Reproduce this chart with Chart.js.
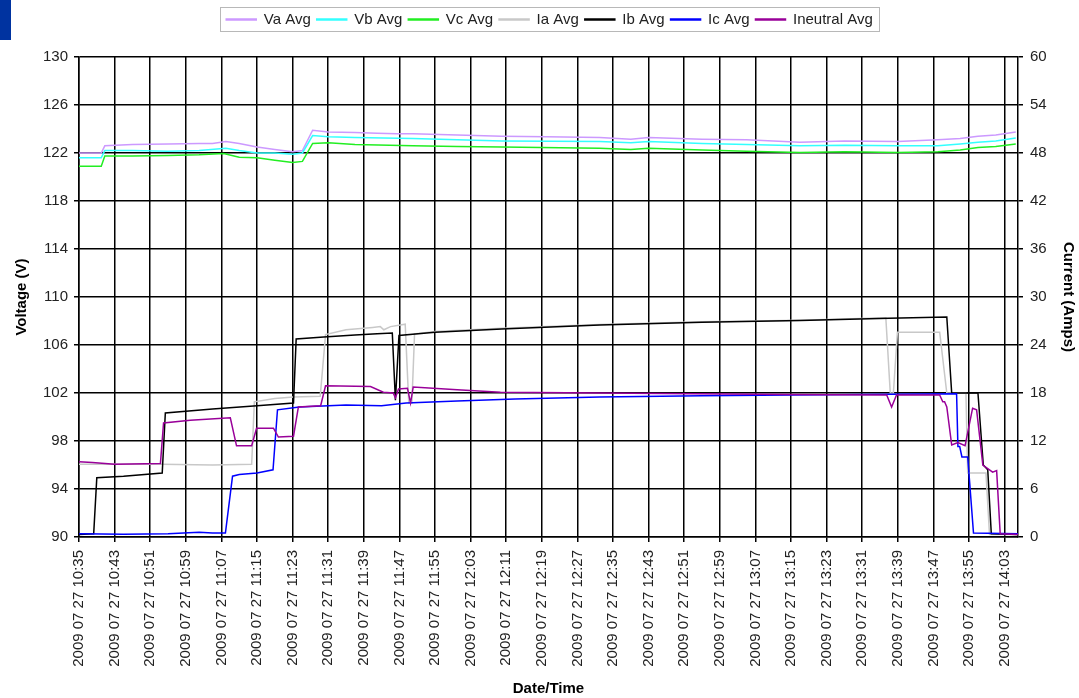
<!DOCTYPE html>
<html>
<head>
<meta charset="utf-8">
<script src="https://cdn.jsdelivr.net/npm/chart.js@4.4.1/dist/chart.umd.min.js"></script>
<style>
  body { margin: 0; background: #fff; }
  #wrap { position: relative; width: 1079px; height: 698px; }
  #corner { position: absolute; left: 0; top: 0; width: 11px; height: 40px; background: #0033a0; }
</style>
</head>
<body>
<div id="wrap">
  <canvas id="chart" width="1079" height="698"></canvas>
  <div id="corner"></div>
</div>
<script>
// x values are minutes after 10:35, one label every 8 minutes
const tickTimes = ['10:35', '10:43', '10:51', '10:59', '11:07', '11:15', '11:23', '11:31', '11:39',
  '11:47', '11:55', '12:03', '12:11', '12:19', '12:27', '12:35', '12:43', '12:51', '12:59',
  '13:07', '13:15', '13:23', '13:31', '13:39', '13:47', '13:55', '14:03'];
const datePrefix = '2009 07 27 ';

// voltages (left axis)
const vaMin = [0, 5, 5.8, 12, 20, 27, 30, 33, 36, 40, 44, 48, 50.2, 52.5, 56, 62, 67, 71.5, 75, 85,
  95, 105, 117, 124, 128, 140, 150, 162, 172, 184, 193, 198, 202, 206, 210.5];
const vaVolt = [122.0, 122.0, 122.6, 122.7, 122.75, 122.8, 122.8, 122.95, 122.8, 122.5, 122.3, 122.1, 122.2, 123.9, 123.75, 123.7, 123.65, 123.6, 123.6, 123.5,
  123.4, 123.35, 123.3, 123.15, 123.3, 123.15, 123.1, 122.9, 123.0, 122.95, 123.1, 123.2, 123.4, 123.5, 123.75];

const vbMin = [0, 5, 5.8, 12, 20, 27, 33, 36, 40, 44, 48, 50.2, 52.5, 56, 62, 75, 85, 95, 117, 124,
  128, 140, 150, 162, 172, 184, 193, 198, 202, 206, 210.5];
const vbVolt = [121.6, 121.6, 122.2, 122.2, 122.15, 122.2, 122.4, 122.2, 122.0, 122.0, 121.9, 122.0, 123.45, 123.35, 123.3, 123.2, 123.1, 123.0, 122.95, 122.85,
  122.95, 122.8, 122.7, 122.6, 122.65, 122.6, 122.6, 122.75, 122.9, 123.0, 123.25];

const vcMin = [0, 5, 5.8, 12, 20, 27, 32.5, 36, 40, 44, 48, 50.2, 52.5, 56, 62, 75, 85, 95, 117, 124,
  128, 140, 150, 162, 172, 184, 193, 198, 202, 206, 210.5];
const vcVolt = [120.9, 120.9, 121.75, 121.75, 121.8, 121.85, 121.95, 121.65, 121.6, 121.4, 121.2, 121.3, 122.8, 122.85, 122.7, 122.6, 122.55, 122.5, 122.4, 122.3,
  122.4, 122.25, 122.15, 122.05, 122.1, 122.05, 122.1, 122.25, 122.45, 122.55, 122.75];

// currents (right axis)
const iaMin = [0, 18.5, 30, 38.8, 39.4, 44, 48.2, 54.2, 55.4, 60, 66, 67.7, 68.5, 70, 73.3, 74.1, 74.8, 75.4, 80, 95,
  117, 140, 162, 181.3, 182.3, 183.0, 183.9, 193.4, 195.0, 199.3, 199.7, 203.8, 204.6, 211];
const iaAmps = [9.1, 9.1, 9.0, 9.1, 16.9, 17.3, 17.5, 17.6, 25.3, 25.9, 26.2, 26.3, 25.9, 26.3, 26.6, 16.75, 16.75, 25.4, 25.7, 26.1,
  26.55, 26.9, 27.1, 27.4, 18.0, 18.0, 25.6, 25.6, 18.0, 18.0, 8.0, 8.0, 0.3, 0.3];

const ibMin = [0, 3.3, 4.0, 10, 18.7, 19.4, 30, 40, 48.2, 48.8, 55, 62, 67, 70.4, 71.1, 71.9, 80, 95, 117, 140,
  162, 182, 195.0, 196.1, 202, 203.2, 204.2, 205.0, 211];
const ibAmps = [0.3, 0.4, 7.4, 7.6, 8.0, 15.5, 16.0, 16.4, 16.75, 24.75, 25.0, 25.25, 25.4, 25.5, 17.1, 25.2, 25.6, 26.0, 26.5, 26.85,
  27.05, 27.35, 27.5, 18.0, 18.0, 9.0, 8.4, 0.4, 0.3];

const icMin = [0, 10, 20, 27, 30, 32.9, 34.5, 36, 40, 43.6, 44.6, 49.5, 60, 68, 73.5, 85, 98, 117, 140, 160,
  197.2, 197.5, 197.9, 198.4, 199.7, 201.0, 211];
const icAmps = [0.4, 0.35, 0.4, 0.6, 0.5, 0.5, 7.6, 7.8, 8.0, 8.4, 15.9, 16.25, 16.5, 16.4, 16.75, 17.0, 17.25, 17.5, 17.65, 17.75,
  17.9, 11.3, 11.3, 10.0, 10.0, 0.5, 0.4];

const inMin = [0, 3, 8, 18.3, 19.0, 25, 34.0, 35.4, 38.8, 39.9, 43.7, 44.8, 48.2, 49.3, 54.3, 55.4, 65.5, 68.4, 70.6, 71.1,
  71.8, 73.8, 74.5, 75.1, 85, 94.7, 117, 160, 181.5, 182.6, 183.7, 193.4, 194.1, 194.5, 195.0, 196.1, 197.5, 199.1, 200.8, 201.7,
  203.1, 205.3, 206.2, 207.0, 211];
const inAmps = [9.4, 9.3, 9.1, 9.2, 14.25, 14.6, 14.9, 11.4, 11.4, 13.6, 13.6, 12.5, 12.6, 16.25, 16.4, 18.9, 18.8, 18.1, 18.0, 17.4,
  18.5, 18.6, 16.75, 18.75, 18.4, 18.1, 18.0, 17.8, 17.75, 16.25, 17.75, 17.75, 16.9, 16.9, 16.25, 11.5, 11.8, 11.4, 16.1, 15.9,
  9.0, 8.1, 8.3, 0.4, 0.3];

const FONT = "'Liberation Sans', Arial, sans-serif";

function series(label, mins, vals, color, axis, order) {
    return {
        label: label,
        data: mins.map((m, i) => ({ x: m, y: vals[i] })),
        borderColor: color,
        backgroundColor: color,
        borderWidth: 1.5,
        pointRadius: 0,
        tension: 0,
        fill: false,
        yAxisID: axis,
        order: order,
    };
}

// legend: fixed height, nudged right/down, with a thin grey frame
const legendTweak = {
    id: 'legendTweak',
    beforeLayout(chart) {
        const lg = chart.legend;
        if (lg && !lg._patched) {
            const fit = lg.fit;
            lg.fit = function () { fit.call(this); this.height = 57; };
            lg._patched = true;
        }
    },
    afterLayout(chart) {
        chart.legend.left += 20;
        chart.legend.top += 6;
    },
    afterDraw(chart) {
        const boxes = chart.legend.legendHitBoxes;
        if (!boxes || !boxes.length) return;
        const left = Math.min(...boxes.map(b => b.left)) - 6;
        const right = Math.max(...boxes.map(b => b.left + b.width)) + 6;
        const ctx = chart.ctx;
        ctx.save();
        ctx.strokeStyle = '#b8b8b8';
        ctx.lineWidth = 1;
        ctx.strokeRect(Math.round(left) + 0.5, 7.5, Math.round(right - left), 24);
        ctx.restore();
    }
};

new Chart(document.getElementById('chart'), {
    type: 'line',
    data: {
        datasets: [
            series('Va Avg', vaMin, vaVolt, '#cc99ff', 'y', 6),
            series('Vb Avg', vbMin, vbVolt, '#33ffff', 'y', 5),
            series('Vc Avg', vcMin, vcVolt, '#22ee22', 'y', 4),
            series('Ia Avg', iaMin, iaAmps, '#c8c8c8', 'y1', 3),
            series('Ib Avg', ibMin, ibAmps, '#000000', 'y1', 2),
            series('Ic Avg', icMin, icAmps, '#0000ff', 'y1', 1),
            series('Ineutral Avg', inMin, inAmps, '#990099', 'y1', 0),
        ]
    },
    options: {
        responsive: false,
        animation: false,
        layout: { padding: 0 },
        plugins: {
            legend: {
                position: 'top',
                labels: {
                    boxWidth: 30,
                    boxHeight: 1,
                    padding: 6,
                    color: '#222',
                    font: { family: FONT, size: 15 },
                    sort: (a, b) => a.datasetIndex - b.datasetIndex,
                }
            },
            tooltip: { enabled: false },
        },
        scales: {
            x: {
                type: 'linear',
                min: 0,
                max: 211,
                afterFit(scale) { scale.height = 161; },
                ticks: {
                    stepSize: 8,
                    includeBounds: false,
                    autoSkip: false,
                    minRotation: 90,
                    maxRotation: 90,
                    padding: 8,
                    color: '#222',
                    font: { family: FONT, size: 15 },
                    callback: (v) => (v % 8 === 0 ? datePrefix + tickTimes[v / 8] : null),
                },
                grid: { color: '#000', lineWidth: 1.5, tickLength: 5 },
                border: { color: '#000', width: 1.5 },
                title: {
                    display: true,
                    text: 'Date/Time',
                    color: '#000',
                    font: { family: FONT, size: 15, weight: 'bold' },
                    padding: { top: 0, bottom: 0 },
                },
            },
            y: {
                position: 'left',
                min: 90,
                max: 130,
                afterFit(scale) { scale.width = 79; },
                ticks: {
                    stepSize: 4,
                    padding: 6,
                    color: '#222',
                    font: { family: FONT, size: 15 },
                },
                grid: { color: '#000', lineWidth: 1.5, tickLength: 5 },
                border: { color: '#000', width: 1.5 },
                title: {
                    display: true,
                    text: 'Voltage (V)',
                    color: '#000',
                    font: { family: FONT, size: 15, weight: 'bold' },
                    padding: { top: 13, bottom: 0 },
                },
            },
            y1: {
                position: 'right',
                min: 0,
                max: 60,
                afterFit(scale) { scale.width = 61; },
                ticks: {
                    stepSize: 6,
                    padding: 7,
                    color: '#222',
                    font: { family: FONT, size: 15 },
                },
                grid: { drawOnChartArea: false, color: '#000', lineWidth: 1.5, tickLength: 5 },
                border: { color: '#000', width: 1.5 },
                title: {
                    display: true,
                    text: 'Current (Amps)',
                    color: '#000',
                    font: { family: FONT, size: 15, weight: 'bold' },
                    padding: { top: 2, bottom: 0 },
                },
            },
        },
    },
    plugins: [legendTweak],
});
</script>
</body>
</html>
